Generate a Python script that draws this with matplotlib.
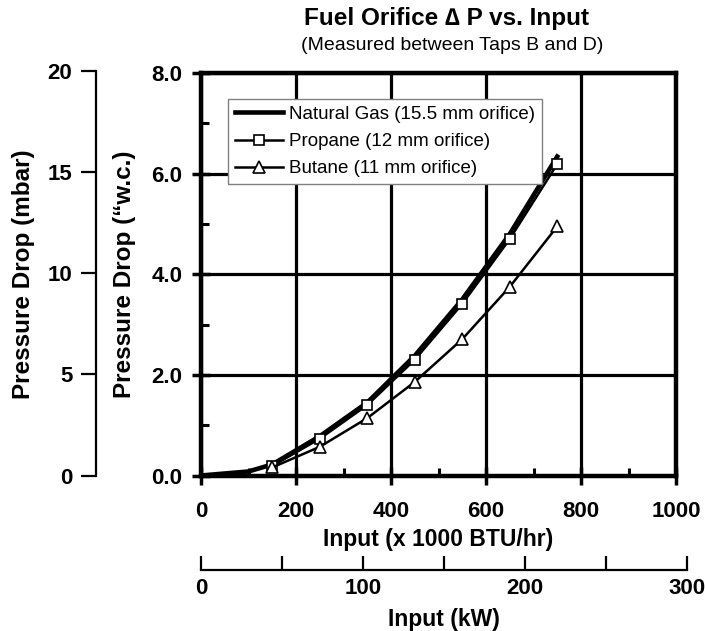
import matplotlib
matplotlib.use("Agg")
import matplotlib.pyplot as plt
from matplotlib.ticker import MultipleLocator, FormatStrFormatter

plt.rcParams['font.family'] = ['Liberation Sans', 'DejaVu Sans']
plt.rcParams['font.weight'] = 'bold'
plt.rcParams['axes.labelweight'] = 'bold'

# data (input in 1000 BTU/hr, pressure drop in inches w.c.)
ng_input = [0, 100, 150, 250, 350, 450, 550, 650, 750]
ng_dp = [0.0, 0.08, 0.22, 0.78, 1.45, 2.38, 3.50, 4.80, 6.34]
lpg_input = [150, 250, 350, 450, 550, 650, 750]
propane_dp = [0.19, 0.73, 1.40, 2.30, 3.41, 4.70, 6.19]
butane_dp = [0.16, 0.57, 1.14, 1.86, 2.71, 3.75, 4.95]

labels = ["Natural Gas (15.5 mm orifice)", "Propane (12 mm orifice)",
          "Butane (11 mm orifice)"]

KBTU_PER_KW = 3.412
MBAR_PER_INWC = 2.488

W, H = 705, 631
fig = plt.figure(figsize=(W / 100, H / 100), dpi=100)


def box(x0, y0, x1, y1):
    # pixel box (top-left origin) -> figure fraction rect
    return [x0 / W, 1 - y1 / H, (x1 - x0) / W, (y1 - y0) / H]


left, right, top, bottom = 201, 676, 73, 475.5
px_per_in = (bottom - top) / 8.0
px_per_kbtu = (right - left) / 1000.0

ax = fig.add_axes(box(left, top, right, bottom))
ax.plot(ng_input, ng_dp, color="black", lw=3.3, label=labels[0], zorder=4)
ax.plot(lpg_input, propane_dp, color="black", lw=1.8, marker="s", ms=7.5,
        mfc="white", mec="black", mew=1.2, label=labels[1], zorder=5)
ax.plot(lpg_input, butane_dp, color="black", lw=1.8, marker="^", ms=8,
        mfc="white", mec="black", mew=1.2, label=labels[2], zorder=5)

ax.set_xlim(0, 1000)
ax.set_ylim(0, 8)
ax.xaxis.set_major_locator(MultipleLocator(200))
ax.xaxis.set_minor_locator(MultipleLocator(100))
ax.yaxis.set_major_locator(MultipleLocator(2))
ax.yaxis.set_minor_locator(MultipleLocator(1))
ax.yaxis.set_major_formatter(FormatStrFormatter("%.1f"))
ax.grid(True, which="major", color="black", lw=2.3)
ax.set_axisbelow(True)
for s in ax.spines.values():
    s.set_linewidth(3.2)
ax.tick_params(which="major", direction="inout", length=13, width=2.5,
               labelsize=16, top=False, right=False)
ax.tick_params(axis="x", which="major", pad=12)
ax.tick_params(axis="y", which="major", pad=7)
ax.tick_params(which="minor", direction="in", length=6, width=2.2,
               top=False, right=False)
ax.set_xlabel("Input (x 1000 BTU/hr)", fontsize=16.5, labelpad=4)

leg = ax.legend(loc="upper left", bbox_to_anchor=(0.057, 0.935),
                prop={"weight": "normal", "size": 13.5}, frameon=True,
                fancybox=False, framealpha=1, edgecolor="#808080",
                handlelength=2.6, handletextpad=0.3, borderpad=0.35,
                labelspacing=0.54, borderaxespad=0)
leg.get_frame().set_linewidth(1.0)

# secondary pressure axis in mbar
mb_top = bottom - 20 / MBAR_PER_INWC * px_per_in
mb = fig.add_axes(box(96, mb_top, 97, bottom))
mb.set_ylim(0, 20)
mb.patch.set_visible(False)
for k in ("top", "right", "bottom"):
    mb.spines[k].set_visible(False)
mb.spines["left"].set_linewidth(1.6)
mb.set_xticks([])
mb.yaxis.set_major_locator(MultipleLocator(5))
mb.tick_params(axis="y", direction="out", length=11, width=1.6,
               labelsize=16, pad=6)

# secondary input axis in kW
kw_right = left + 300 * KBTU_PER_KW * px_per_kbtu
kw = fig.add_axes(box(left, 569, kw_right, 570))
kw.set_xlim(0, 300)
kw.patch.set_visible(False)
for k in ("top", "right", "left"):
    kw.spines[k].set_visible(False)
kw.spines["bottom"].set_linewidth(1.6)
kw.set_yticks([])
kw.xaxis.set_major_locator(MultipleLocator(100))
kw.xaxis.set_minor_locator(MultipleLocator(50))
kw.tick_params(axis="x", which="both", direction="in", length=10, width=1.6,
               labelsize=16, pad=6)
kw.set_xlabel("Input (kW)", fontsize=16.5, labelpad=6)

fig.text(24 / W, 1 - 274 / H, "Pressure Drop (mbar)", rotation=90,
         ha="center", va="center", fontsize=17.5)
fig.text(124 / W, 1 - 274 / H, "Pressure Drop (\u201cw.c.)", rotation=90,
         ha="center", va="center", fontsize=17.5)

fig.text(446 / W, 1 - 19 / H, "Fuel Orifice \u2206 P vs. Input", ha="center",
         va="center", fontsize=17.5)
fig.text(452 / W, 1 - 46 / H, "(Measured between Taps B and D)", ha="center",
         va="center", fontsize=14, weight="normal")

fig.savefig("out.png", dpi=100)
